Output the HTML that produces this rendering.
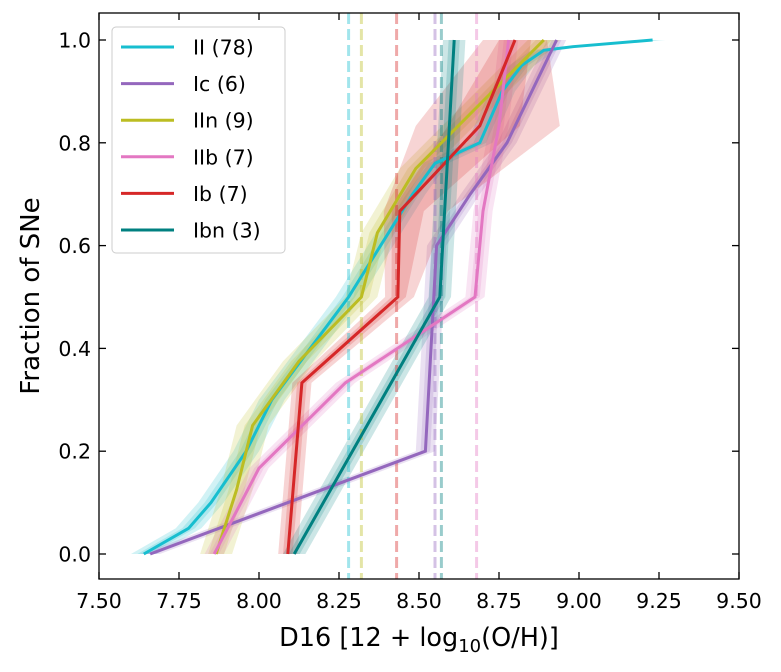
<!DOCTYPE html>
<html><head><meta charset="utf-8"><style>
body{margin:0;background:#fff;font-family:"DejaVu Sans","Liberation Sans",sans-serif}
</style></head><body>
<svg id="chart" width="781" height="668" xmlns="http://www.w3.org/2000/svg" font-family="DejaVu Sans, Liberation Sans, sans-serif"></svg>
<script>
const categories = ["II (78)","Ic (6)","IIn (9)","IIb (7)","Ib (7)","Ibn (3)"];
const colors = ["#17becf","#9467bd","#bcbd22","#e377c2","#d62728","#008080"];
const seriesII_x = [7.64,7.78,7.85,7.96,8.04,8.16,8.28,8.38,8.48,8.55,8.69,8.76,8.82,8.89,8.98,9.23];
const seriesII_y = [0,0.05,0.1,0.2,0.3,0.4,0.5,0.6,0.7,0.76,0.8,0.9,0.95,0.98,0.987,1.0];
const seriesIc_x = [7.66,8.52,8.555,8.66,8.775,8.93];
const seriesIc_y = [0,0.2,0.6,0.7,0.8,1.0];
const seriesIIn_x = [7.866,7.93,7.98,8.125,8.32,8.37,8.49,8.69,8.89];
const seriesIIn_y = [0,0.125,0.25,0.375,0.5,0.625,0.75,0.875,1.0];
const seriesIIb_x = [7.86,8.0,8.27,8.675,8.70,8.75,8.78];
const seriesIIb_y = [0,0.167,0.333,0.5,0.667,0.833,1.0];
const seriesIb_x = [8.09,8.134,8.434,8.44,8.69,8.80];
const seriesIb_y = [0,0.333,0.5,0.667,0.833,1.0];
const seriesIbn_x = [8.11,8.565,8.61];
const seriesIbn_y = [0,0.5,1.0];
const bandLo = [[0.04],[0.03],[0.05],[0.03],[0.03,0.03,0.04,0.05,0.2,0.1],[0.035]];
const bandHi = [[0.04],[0.03],[0.05],[0.03],[0.03,0.03,0.05,0.15,0.25,0.1],[0.035]];
const medians = [8.28,8.55,8.32,8.68,8.43,8.57];
const xTicks = [7.50,7.75,8.00,8.25,8.50,8.75,9.00,9.25,9.50];
const yTicks = [0.0,0.2,0.4,0.6,0.8,1.0];

const xs=[seriesII_x,seriesIc_x,seriesIIn_x,seriesIIb_x,seriesIb_x,seriesIbn_x];
const ys=[seriesII_y,seriesIc_y,seriesIIn_y,seriesIIb_y,seriesIb_y,seriesIbn_y];
const L=99,R=739,T=13,B=579;
const X=v=>L+(v-7.5)*(R-L)/2;
const Y=f=>554-f*514;
const svg=document.getElementById('chart');
const NS='http://www.w3.org/2000/svg';
function mk(t,a,p){const e=document.createElementNS(NS,t);for(const k in a)e.setAttribute(k,a[k]);(p||svg).appendChild(e);return e;}
const bw=(arr,i)=>arr.length>1?arr[i]:arr[0];

const plot=mk('g',{});


for(let s=0;s<6;s++){
  for(const m of [1,0.5]){
    let pts=xs[s].map((v,i)=>X(v-bw(bandLo[s],i)*m)+','+Y(ys[s][i]));
    pts=pts.concat(xs[s].map((v,i)=>X(v+bw(bandHi[s],i)*m)+','+Y(ys[s][i])).reverse());
    const p=mk('polygon',{points:pts.join(' '),fill:colors[s],'fill-opacity':0.2},plot);
    
    
  }
}
for(let s=0;s<6;s++){
  const l=mk('line',{x1:X(medians[s]),x2:X(medians[s]),y1:T,y2:B,stroke:colors[s],'stroke-opacity':0.4,'stroke-width':3,'stroke-dasharray':'11,5'},plot);
  
  
}
for(let s=0;s<6;s++){
  const pl=mk('polyline',{points:xs[s].map((v,i)=>X(v)+','+Y(ys[s][i])).join(' '),fill:'none',stroke:colors[s],'stroke-width':3},plot);
  
  
}
const fr=mk('rect',{x:L,y:T,width:R-L,height:B-T,fill:'none',stroke:'#000','stroke-width':1.3});


for(const t of xTicks){
  mk('line',{x1:X(t),x2:X(t),y1:B,y2:B-7,stroke:'#000','stroke-width':1.3});
  mk('line',{x1:X(t),x2:X(t),y1:T,y2:T+7,stroke:'#000','stroke-width':1.3});
  const tx=mk('text',{x:X(t),y:B+29,'font-size':20.5,'text-anchor':'middle'});
  tx.textContent=t.toFixed(2);
  
  
}
for(const t of yTicks){
  mk('line',{x1:L,x2:L+7,y1:Y(t),y2:Y(t),stroke:'#000','stroke-width':1.3});
  mk('line',{x1:R,x2:R-7,y1:Y(t),y2:Y(t),stroke:'#000','stroke-width':1.3});
  const tx=mk('text',{x:L-8,y:Y(t)+7.5,'font-size':20.5,'text-anchor':'end'});
  tx.textContent=t.toFixed(1);
  
  
}
const xt=mk('text',{x:419,y:646,'font-size':25.5,'text-anchor':'middle'});
xt.innerHTML='D16 [12 + log<tspan font-size="18" dy="6">10</tspan><tspan dy="-6">(O/H)]</tspan>';


const yt=mk('text',{x:0,y:0,'font-size':26,'text-anchor':'middle',transform:'translate(39,296) rotate(-90)'});
yt.textContent='Fraction of SNe';


const lg=mk('g',{});


mk('rect',{x:112,y:27,width:173,height:226,rx:4,fill:'#fff','fill-opacity':0.85,stroke:'#ccc','stroke-width':1},lg);
for(let s=0;s<6;s++){
  const y=47+s*36.6;
  const e=mk('g',{},lg);
  
  
  mk('line',{x1:121,x2:174,y1:y,y2:y,stroke:colors[s],'stroke-width':3},e);
  const t=mk('text',{x:193,y:y+7.5,'font-size':20.5},e);
  t.textContent=categories[s];
}
</script>
</body></html>
